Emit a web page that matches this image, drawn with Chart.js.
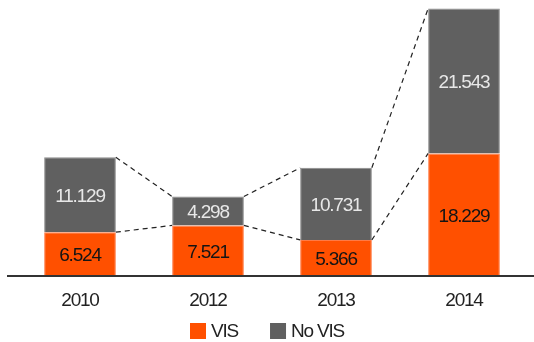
<!DOCTYPE html>
<html>
<head>
<meta charset="utf-8">
<script src="https://cdn.jsdelivr.net/npm/chart.js@4/dist/chart.umd.min.js"></script>
<style>
  html, body { margin: 0; padding: 0; background: #fff; }
  canvas { display: block; }
</style>
</head>
<body>
<canvas id="chart" width="534" height="342"></canvas>
<script>
const years = ['2010', '2012', '2013', '2014'];
const vis = [6.524, 7.521, 5.366, 18.229];
const noVis = [11.129, 4.298, 10.731, 21.543];

const FONT = '"Liberation Sans", Arial, sans-serif';
const TIGHT = '-1.2px';

// narrow look: tighten letters for every text the chart draws
const tighten = {
  id: 'tighten',
  beforeLayout(chart) { chart.ctx.letterSpacing = TIGHT; },
  beforeDraw(chart) { chart.ctx.letterSpacing = TIGHT; }
};

// dashed connectors, baseline, value labels and legend
const overlay = {
  id: 'overlay',
  afterDatasetsDraw(chart) {
    const ctx = chart.ctx;
    const y = chart.scales.y;
    const metaVis = chart.getDatasetMeta(0);
    const metaNo = chart.getDatasetMeta(1);

    ctx.save();
    ctx.letterSpacing = TIGHT;
    ctx.strokeStyle = '#222';
    ctx.lineWidth = 1.2;
    ctx.setLineDash([5, 4]);
    for (let i = 0; i < years.length - 1; i++) {
      [metaVis, metaNo].forEach(meta => {
        const a = meta.data[i], b = meta.data[i + 1];
        ctx.beginPath();
        ctx.moveTo(a.x + a.width / 2, a.y);
        ctx.lineTo(b.x - b.width / 2, b.y);
        ctx.stroke();
      });
    }
    ctx.setLineDash([]);

    // baseline
    const y0 = y.getPixelForValue(0);
    ctx.strokeStyle = '#333';
    ctx.lineWidth = 2;
    ctx.beginPath();
    ctx.moveTo(7, y0);
    ctx.lineTo(chart.width, y0);
    ctx.stroke();

    // value labels
    ctx.font = '19px ' + FONT;
    ctx.textAlign = 'center';
    ctx.textBaseline = 'middle';
    metaVis.data.forEach((bar, i) => {
      ctx.fillStyle = '#141414';
      ctx.fillText(vis[i].toFixed(3), bar.x, (bar.y + bar.base) / 2 + 2);
    });
    metaNo.data.forEach((bar, i) => {
      ctx.fillStyle = '#e8e8e8';
      ctx.fillText(noVis[i].toFixed(3), bar.x, (bar.y + bar.base) / 2 + 2);
    });

    // legend
    const items = chart.data.datasets.map(d => ({ text: d.label, color: d.backgroundColor }));
    const box = 16, gapText = 5, gapItem = 32;
    ctx.font = '19px ' + FONT;
    ctx.textAlign = 'left';
    const widths = items.map(it => ctx.measureText(it.text).width);
    let total = 0;
    items.forEach((it, i) => { total += box + gapText + widths[i] + (i ? gapItem : 0); });
    let lx = Math.round(chart.width / 2 - total / 2);
    const ly = 323;
    items.forEach((it, i) => {
      ctx.fillStyle = it.color;
      ctx.fillRect(lx, ly, box, box);
      ctx.fillStyle = '#222';
      ctx.fillText(it.text, lx + box + gapText, ly + box / 2 + 1);
      lx += box + gapText + widths[i] + gapItem;
    });
    ctx.restore();
  }
};

new Chart(document.getElementById('chart'), {
  type: 'bar',
  data: {
    labels: years,
    datasets: [
      { label: 'VIS', data: vis, backgroundColor: '#ff5000', borderColor: '#ff7a45', borderWidth: 1, borderSkipped: 'bottom' },
      { label: 'No VIS', data: noVis, backgroundColor: '#606060', borderColor: '#8c8c8c', borderWidth: 1, borderSkipped: 'bottom' }
    ]
  },
  options: {
    responsive: false,
    animation: false,
    devicePixelRatio: 1,
    barPercentage: 0.56,
    categoryPercentage: 1,
    layout: { padding: { left: 16, right: 6, top: 7, bottom: 32 } },
    scales: {
      x: {
        stacked: true,
        grid: { display: false },
        border: { display: false },
        ticks: { color: '#222', font: { family: FONT, size: 19 }, padding: 5 },
        afterFit: s => { s.height = 34; }
      },
      y: { stacked: true, display: false, min: 0, max: 40 }
    },
    plugins: {
      legend: { display: false },
      tooltip: { enabled: false }
    }
  },
  plugins: [tighten, overlay]
});
</script>
</body>
</html>
